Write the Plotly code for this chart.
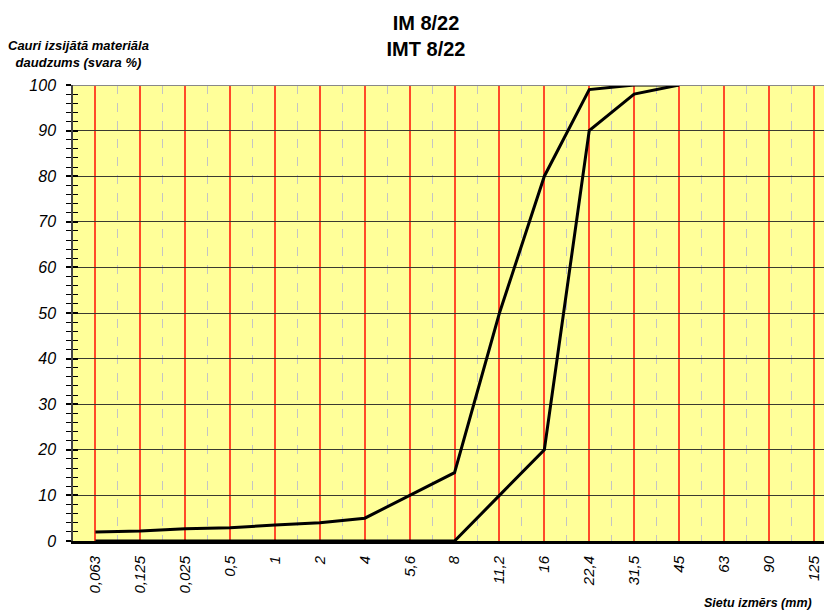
import plotly.graph_objects as go

# sieve sizes (mm) as printed on the chart
sieves = ["0,063", "0,125", "0,025", "0,5", "1", "2", "4", "5,6", "8",
          "11,2", "16", "22,4", "31,5", "45", "63", "90", "125"]

# grading envelope, % passing
upper = [2, 2.2, 2.7, 2.9, 3.5, 4, 5, 10, 15, 50, 80, 99, 100, 100]
lower = [0, 0, 0, 0, 0, 0, 0, 0, 0, 10, 20, 90, 98, 100]

FONT = "Liberation Sans, Arial, sans-serif"
pos = list(range(len(sieves)))

fig = go.Figure()
for vals in (upper, lower):
    fig.add_trace(go.Scatter(
        x=pos[:len(vals)], y=vals, mode="lines",
        line=dict(color="black", width=3),
        showlegend=False, cliponaxis=False,
    ))

# invisible trace to hang the inner tick marks on
fig.add_trace(go.Scatter(x=[0], y=[0], yaxis="y2", mode="markers",
                         marker=dict(opacity=0), showlegend=False,
                         hoverinfo="skip"))

minor_out = dict(tick0=0, dtick=2, ticks="outside", ticklen=5,
                 tickcolor="black", tickwidth=1.3, showgrid=False)
minor_in = dict(minor_out, ticks="inside")

fig.update_layout(
    width=824, height=610,
    margin=dict(l=73, r=0, t=85, b=69, autoexpand=False),
    paper_bgcolor="white",
    plot_bgcolor="#ffff99",
    font=dict(family=FONT, color="black"),
    title=dict(
        text="IM 8/22<br>IMT 8/22",
        x=0.517, xanchor="center", y=0.951, yanchor="top",
        font=dict(size=20, weight="bold", family=FONT),
    ),
    xaxis=dict(
        range=[-0.5, 16.23],
        tickmode="array", tickvals=pos, ticktext=sieves,
        tickangle=-90,
        tickfont=dict(size=15, style="italic"),
        ticks="", ticklabelstandoff=6,
        showgrid=True, gridcolor="#ff4a2a", gridwidth=1.5,
        minor=dict(tick0=0.5, dtick=1, showgrid=True, gridcolor="#c4c4c4",
                   griddash="dash", gridwidth=1.2),
        showline=True, linecolor="black", linewidth=3,
        zeroline=False,
    ),
    yaxis=dict(
        range=[0, 100], tick0=0, dtick=10,
        tickfont=dict(size=16, style="italic"),
        ticks="outside", ticklen=5, tickcolor="black", tickwidth=1.5,
        minor=minor_out,
        showgrid=True, gridcolor="#3a3a30", gridwidth=1,
        showline=True, linecolor="#444", linewidth=1.5,
        zeroline=False, ticklabelstandoff=7,
    ),
    yaxis2=dict(
        range=[0, 100], overlaying="y", side="left", anchor="x",
        tick0=0, dtick=10, showticklabels=False,
        ticks="inside", ticklen=5, tickcolor="black", tickwidth=1.5,
        minor=minor_in,
        showgrid=False, zeroline=False, showline=False,
    ),
    shapes=[dict(type="line", xref="paper", yref="y", x0=0, x1=1, y0=100, y1=100,
                 line=dict(color="#888888", width=2))],
    annotations=[
        dict(text="Cauri izsijātā materiāla<br>daudzums (svara %)",
             xref="paper", yref="paper", x=-0.089, y=1.069,
             xanchor="left", yanchor="middle", showarrow=False, align="center",
             font=dict(size=13, weight="bold", style="italic", family=FONT)),
        dict(text="Sietu izmērs (mm)",
             xref="paper", yref="paper", x=0.987, y=-0.136,
             xanchor="right", yanchor="middle", showarrow=False,
             font=dict(size=12.5, weight="bold", style="italic", family=FONT)),
    ],
)

# the page body has a default 8px margin; drop it so the figure sits at 0,0
fig.write_html(
    "out.html",
    config={"displayModeBar": False},
    post_script="document.body.style.margin='0';document.body.style.overflow='hidden';",
)
